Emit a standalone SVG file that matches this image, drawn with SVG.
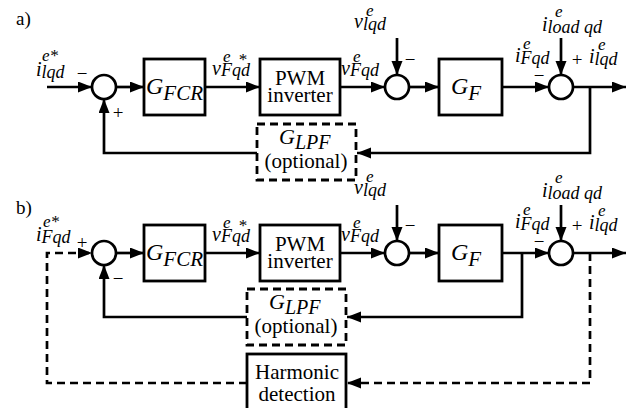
<svg xmlns="http://www.w3.org/2000/svg" width="628" height="408" viewBox="0 0 628 408" font-family="'Liberation Serif','Times New Roman',serif">
<style>
text{font-family:"Liberation Serif","Times New Roman",serif;fill:#000}
.it{font-style:italic}
.lb{font-style:italic;font-size:20px}
.sb{font-style:italic;font-size:18px}
.sp{font-style:italic;font-size:17px}
.rm{font-size:21px;text-anchor:middle}
.sg{font-size:19px;text-anchor:middle}
.gg{font-style:italic;font-size:24px}
.gs{font-style:italic;font-size:21px}
.box{fill:#fff;stroke:#000;stroke-width:2.8}
.dbox{fill:#fff;stroke:#000;stroke-width:2.8;stroke-dasharray:8 5}
.sum{fill:#fff;stroke:#000;stroke-width:2.7}
.ln{fill:none;stroke:#000;stroke-width:2.7}
.dl{fill:none;stroke:#000;stroke-width:2.7;stroke-dasharray:8 5}
</style>
<defs>
<marker id="ah" markerUnits="userSpaceOnUse" markerWidth="15" markerHeight="12" refX="14" refY="5.5" orient="auto">
<path d="M0,0 L14,5.5 L0,11 z" fill="#000"/>
</marker>
</defs>

<text x="16" y="25" font-size="19">a)</text>
<text x="16" y="214" font-size="19">b)</text>

<g id="connectors">
<path class="ln" d="M47,87 L92,87" marker-end="url(#ah)"/>
<path class="ln" d="M116,87 L144,87" marker-end="url(#ah)"/>
<path class="ln" d="M205,87 L260,87" marker-end="url(#ah)"/>
<path class="ln" d="M340,87 L385,87" marker-end="url(#ah)"/>
<path class="ln" d="M397,38 L397,75" marker-end="url(#ah)"/>
<path class="ln" d="M409,87 L439,87" marker-end="url(#ah)"/>
<path class="ln" d="M502,87 L549,87" marker-end="url(#ah)"/>
<path class="ln" d="M561,38 L561,75" marker-end="url(#ah)"/>
<path class="ln" d="M573,87 L626,87" marker-end="url(#ah)"/>
<path class="ln" d="M590,87 L590,153 L357,153" marker-end="url(#ah)"/>
<path class="ln" d="M257,153 L104,153 L104,99" marker-end="url(#ah)"/>
<path class="dl" d="M247,383 L47,383 L47,253 L92,253" marker-end="url(#ah)"/>
<path class="ln" d="M116,253 L144,253" marker-end="url(#ah)"/>
<path class="ln" d="M205,253 L260,253" marker-end="url(#ah)"/>
<path class="ln" d="M340,253 L385,253" marker-end="url(#ah)"/>
<path class="ln" d="M397,205 L397,241" marker-end="url(#ah)"/>
<path class="ln" d="M409,253 L439,253" marker-end="url(#ah)"/>
<path class="ln" d="M502,253 L549,253" marker-end="url(#ah)"/>
<path class="ln" d="M561,205 L561,241" marker-end="url(#ah)"/>
<path class="ln" d="M573,253 L626,253" marker-end="url(#ah)"/>
<path class="ln" d="M522,253 L522,317 L347,317" marker-end="url(#ah)"/>
<path class="ln" d="M247,317 L104,317 L104,265" marker-end="url(#ah)"/>
<path class="dl" d="M590,253 L590,383 L347,383" marker-end="url(#ah)"/>
</g>

<g id="a-sum1"><circle class="sum" cx="104" cy="87" r="12"/></g>
<g id="a-gfcr"><rect class="box" x="144" y="59" width="61" height="56"/>
<text class="gg" x="146" y="94">G<tspan class="gs" dy="6">FCR</tspan></text></g>
<g id="a-pwm"><rect class="box" x="260" y="59" width="80" height="56"/>
<text class="rm" x="300" y="85">PWM</text><text class="rm" x="300" y="102">inverter</text></g>
<g id="a-sum2"><circle class="sum" cx="397" cy="87" r="12"/></g>
<g id="a-gf"><rect class="box" x="439" y="59" width="63" height="56"/>
<text class="gg" x="451" y="94">G<tspan class="gs" font-size="22" dy="6">F</tspan></text></g>
<g id="a-sum3"><circle class="sum" cx="561" cy="87" r="12"/></g>
<g id="a-lpf"><rect class="dbox" x="257" y="124" width="99" height="56"/>
<text class="it" font-size="22" x="279" y="144">G<tspan font-size="20" dy="5">LPF</tspan></text>
<text class="rm" x="306" y="168">(optional)</text></g>

<g id="b-sum1"><circle class="sum" cx="104" cy="253" r="12"/></g>
<g id="b-gfcr"><rect class="box" x="144" y="225" width="61" height="56"/>
<text class="gg" x="146" y="260">G<tspan class="gs" dy="6">FCR</tspan></text></g>
<g id="b-pwm"><rect class="box" x="260" y="225" width="80" height="56"/>
<text class="rm" x="300" y="251">PWM</text><text class="rm" x="300" y="268">inverter</text></g>
<g id="b-sum2"><circle class="sum" cx="397" cy="253" r="12"/></g>
<g id="b-gf"><rect class="box" x="439" y="225" width="63" height="56"/>
<text class="gg" x="451" y="260">G<tspan class="gs" font-size="22" dy="6">F</tspan></text></g>
<g id="b-sum3"><circle class="sum" cx="561" cy="253" r="12"/></g>
<g id="b-lpf"><rect class="dbox" x="247" y="289" width="99" height="56"/>
<text class="it" font-size="22" x="269" y="309">G<tspan font-size="20" dy="5">LPF</tspan></text>
<text class="rm" x="296" y="333">(optional)</text></g>
<g id="b-harm"><rect class="box" x="247" y="354" width="99" height="70"/>
<text class="rm" x="297" y="379">Harmonic</text><text class="rm" x="297" y="401">detection</text></g>

<g id="a-labels">
<text class="lb" x="36" y="76">i<tspan class="sb" dy="2">lqd</tspan><tspan class="sp" x="42" dy="-17">e*</tspan></text>
<text class="lb" x="212" y="75">v<tspan class="sb" dy="1">Fqd</tspan><tspan class="sp" x="223" dy="-14">e</tspan><tspan class="sp" x="238" dy="3">*</tspan></text>
<text class="lb" x="341" y="75">v<tspan class="sb" dy="1">Fqd</tspan><tspan class="sp" x="353" dy="-14">e</tspan></text>
<text class="lb" x="354" y="28">v<tspan class="sb" dy="2">lqd</tspan><tspan class="sp" x="366" dy="-14">e</tspan></text>
<text class="lb" x="542" y="31">i<tspan class="sb" dy="2">load qd</tspan><tspan class="sp" x="555" dy="-16">e</tspan></text>
<text class="lb" x="515" y="62">i<tspan class="sb" dy="2">Fqd</tspan><tspan class="sp" x="523" dy="-15">e</tspan></text>
<text class="lb" x="589" y="63">i<tspan class="sb" dy="2">lqd</tspan><tspan class="sp" x="598" dy="-15">e</tspan></text>
<text class="sg" x="82" y="80">−</text>
<text class="sg" x="118" y="119">+</text>
<text class="sg" x="410" y="66">−</text>
<text class="sg" x="577" y="66">+</text>
<text class="sg" x="539" y="82">−</text>
</g>

<g id="b-labels">
<text class="lb" x="36" y="241">i<tspan class="sb" dy="2">Fqd</tspan><tspan class="sp" x="43" dy="-16">e*</tspan></text>
<text class="lb" x="212" y="241">v<tspan class="sb" dy="1">Fqd</tspan><tspan class="sp" x="223" dy="-14">e</tspan><tspan class="sp" x="238" dy="3">*</tspan></text>
<text class="lb" x="341" y="241">v<tspan class="sb" dy="1">Fqd</tspan><tspan class="sp" x="353" dy="-14">e</tspan></text>
<text class="lb" x="354" y="194">v<tspan class="sb" dy="2">lqd</tspan><tspan class="sp" x="366" dy="-14">e</tspan></text>
<text class="lb" x="542" y="197">i<tspan class="sb" dy="2">load qd</tspan><tspan class="sp" x="555" dy="-16">e</tspan></text>
<text class="lb" x="515" y="228">i<tspan class="sb" dy="2">Fqd</tspan><tspan class="sp" x="523" dy="-15">e</tspan></text>
<text class="lb" x="589" y="229">i<tspan class="sb" dy="2">lqd</tspan><tspan class="sp" x="598" dy="-15">e</tspan></text>
<text class="sg" x="82" y="249">+</text>
<text class="sg" x="118" y="285">−</text>
<text class="sg" x="410" y="232">−</text>
<text class="sg" x="577" y="232">+</text>
<text class="sg" x="539" y="248">−</text>
</g>
</svg>
